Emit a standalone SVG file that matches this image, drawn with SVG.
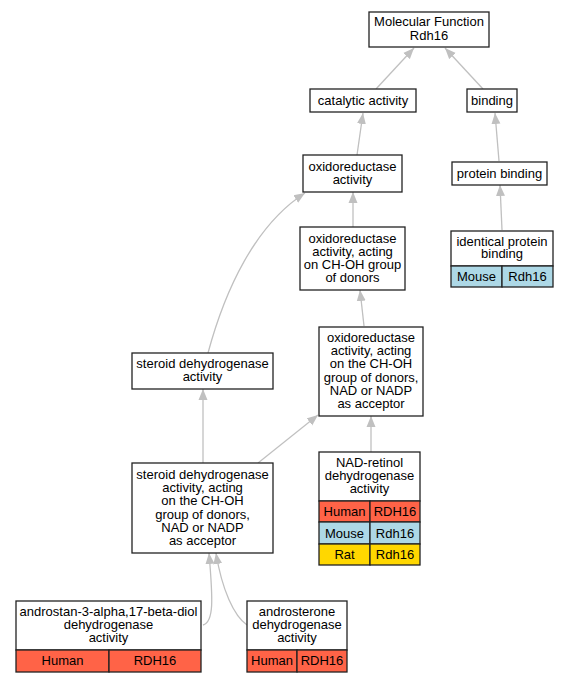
<svg xmlns="http://www.w3.org/2000/svg" width="568" height="683" viewBox="0 0 568 683">
<style>
text{font-family:"Liberation Sans",Arial,sans-serif;font-size:13px;text-anchor:middle;fill:#000}
.b{fill:#fff;stroke:#222;stroke-width:1.3}
.h{fill:#ff6347;stroke:#222;stroke-width:1.3}
.m{fill:#add8e6;stroke:#222;stroke-width:1.3}
.r{fill:#ffd700;stroke:#222;stroke-width:1.3}
.e{fill:none;stroke:#c0c0c0;stroke-width:1.3;marker-end:url(#a)}
</style>
<defs>
<marker id="a" markerWidth="12" markerHeight="10" refX="11" refY="5" orient="auto" markerUnits="userSpaceOnUse"><path d="M0,0.5 L11,5 L0,9.5 z" fill="#c0c0c0"/></marker>
</defs>
<g id="connectors">
<path class="e" d="M376,89 L414,48"/>
<path class="e" d="M483,89 L445,48"/>
<path class="e" d="M357,155 L363,113"/>
<path class="e" d="M499,161 L495,113"/>
<path class="e" d="M502,230 L500,185"/>
<path class="e" d="M353,227 L353,192"/>
<path class="e" d="M364,326 L360,290"/>
<path class="e" d="M371,452 L371,416"/>
<path class="e" d="M208,353 C225,290 255,225 305,193"/>
<path class="e" d="M203,463 L203,389"/>
<path class="e" d="M258,463 L318,415"/>
<path class="e" d="M203,625 C214,622 213,600 209,553"/>
<path class="e" d="M247,625 C234,616 222,590 216,553"/>
</g>
<g id="mf">
<rect class="b" x="369" y="12" width="120" height="35"/>
<text x="429" y="26">Molecular Function</text>
<text x="429" y="39.5">Rdh16</text>
</g>
<g id="catalytic">
<rect class="b" x="310" y="89" width="106" height="23"/>
<text x="363" y="105">catalytic activity</text>
</g>
<g id="binding">
<rect class="b" x="467" y="89" width="50" height="23"/>
<text x="492" y="105">binding</text>
</g>
<g id="oxidoreductase">
<rect class="b" x="303" y="155" width="99" height="37"/>
<text x="352.5" y="170.5">oxidoreductase</text>
<text x="352.5" y="184">activity</text>
</g>
<g id="proteinbinding">
<rect class="b" x="452" y="162" width="95" height="23"/>
<text x="499.5" y="178">protein binding</text>
</g>
<g id="identical">
<rect class="b" x="451" y="231" width="102" height="35"/>
<rect class="m" x="451" y="266" width="51" height="21"/>
<rect class="m" x="502" y="266" width="51" height="21"/>
<text x="502" y="245.5">identical protein</text>
<text x="502" y="258">binding</text>
<text x="476.5" y="281">Mouse</text>
<text x="527.5" y="281">Rdh16</text>
</g>
<g id="chOH">
<rect class="b" x="300" y="227" width="105" height="63"/>
<text x="352.5" y="242.5">oxidoreductase</text>
<text x="352.5" y="255.5">activity, acting</text>
<text x="352.5" y="268.5">on CH-OH group</text>
<text x="352.5" y="281.5">of donors</text>
</g>
<g id="nadacceptor">
<rect class="b" x="319" y="327" width="104" height="89"/>
<text x="371" y="341.5">oxidoreductase</text>
<text x="371" y="354.5">activity, acting</text>
<text x="371" y="368">on the CH-OH</text>
<text x="371" y="381.5">group of donors,</text>
<text x="371" y="394.5">NAD or NADP</text>
<text x="371" y="408">as acceptor</text>
</g>
<g id="steroid">
<rect class="b" x="132" y="353" width="141" height="36"/>
<text x="202.5" y="367.5">steroid dehydrogenase</text>
<text x="202.5" y="381">activity</text>
</g>
<g id="steroidacting">
<rect class="b" x="132" y="463" width="141" height="90"/>
<text x="202.5" y="478.5">steroid dehydrogenase</text>
<text x="202.5" y="491.5">activity, acting</text>
<text x="202.5" y="505">on the CH-OH</text>
<text x="202.5" y="518.5">group of donors,</text>
<text x="202.5" y="531.5">NAD or NADP</text>
<text x="202.5" y="545">as acceptor</text>
</g>
<g id="nadretinol">
<rect class="b" x="319" y="452" width="101" height="49"/>
<rect class="h" x="319" y="501" width="51" height="21"/>
<rect class="h" x="370" y="501" width="50" height="21"/>
<rect class="m" x="319" y="522" width="51" height="22"/>
<rect class="m" x="370" y="522" width="50" height="22"/>
<rect class="r" x="319" y="544" width="51" height="21"/>
<rect class="r" x="370" y="544" width="50" height="21"/>
<text x="369.5" y="466.5">NAD-retinol</text>
<text x="369.5" y="479.5">dehydrogenase</text>
<text x="369.5" y="493">activity</text>
<text x="344.5" y="516">Human</text>
<text x="395" y="516">RDH16</text>
<text x="344.5" y="537.5">Mouse</text>
<text x="395" y="537.5">Rdh16</text>
<text x="344.5" y="559">Rat</text>
<text x="395" y="559">Rdh16</text>
</g>
<g id="androstan">
<rect class="b" x="16" y="601" width="185" height="49"/>
<rect class="h" x="16" y="650" width="93" height="22"/>
<rect class="h" x="109" y="650" width="92" height="22"/>
<text x="108.5" y="615.5">androstan-3-alpha,17-beta-diol</text>
<text x="108.5" y="628.5">dehydrogenase</text>
<text x="108.5" y="642">activity</text>
<text x="62.5" y="665">Human</text>
<text x="155" y="665">RDH16</text>
</g>
<g id="androsterone">
<rect class="b" x="247" y="601" width="100" height="49"/>
<rect class="h" x="247" y="650" width="50" height="22"/>
<rect class="h" x="297" y="650" width="50" height="22"/>
<text x="297" y="615.5">androsterone</text>
<text x="297" y="628.5">dehydrogenase</text>
<text x="297" y="642">activity</text>
<text x="272" y="665">Human</text>
<text x="322" y="665">RDH16</text>
</g>
</svg>
